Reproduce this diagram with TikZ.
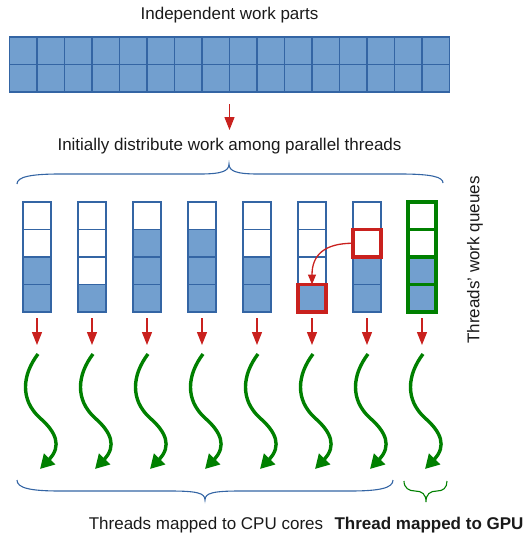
\documentclass[tikz,border=0pt]{standalone}
\usepackage{fontspec}
\setmainfont{Liberation Sans}
\usetikzlibrary{arrows.meta}
\definecolor{qblue}{HTML}{729FCF}
\definecolor{qborder}{HTML}{3465A4}
\definecolor{qred}{HTML}{C9211E}
\definecolor{qgreen}{HTML}{008000}
\definecolor{qtext}{HTML}{1A1A1A}
\begin{document}
\begin{tikzpicture}[x=1pt,y=-1pt,
  cell/.style={minimum width=27.5pt, minimum height=27.5pt, inner sep=0pt, outer sep=0pt, anchor=north west},
  qcell/.style={cell, minimum width=28pt},
  edge/.style={draw=qborder, line width=1.5pt},
  thickedge/.style={line width=3.2pt},
  label/.style={text=qtext, font=\fontsize{17}{20}\selectfont, inner sep=0pt},
  redarrow/.style={draw=qred, line width=1.2pt, -{Triangle[length=13pt,width=10pt]}},
  wavy/.style={draw=qgreen, line width=3.4pt, -{Triangle[length=14pt,width=15pt]}},
  bracestyle/.style={line width=1.1pt}]
\useasboundingbox (0,0) rectangle (527,538);
% top grid
\foreach \c in {0,...,15}{
  \foreach \r in {0,1}{
    \node[cell, fill=qblue] (g-\r-\c) at (9.5+27.5*\c, 37+27.5*\r) {};
  }
}
\foreach \c in {0,...,15}{
  \foreach \r in {0,1}{
    \draw[edge] (g-\r-\c.north west) rectangle (g-\r-\c.south east);
  }
}
\node[label] (t1) at (229.5,15) {Independent work parts};
\coordinate (ta) at (229.5,104);
\coordinate (tb) at (229.5,130);
\draw[redarrow] (ta) -- (tb);
\node[label] (t2) at (229.5,146) {Initially distribute work among parallel threads};
% top brace
\draw[qborder, bracestyle] (17,184) .. controls (17,177) and (30,174) .. (60,174) -- (200,174)
  .. controls (222,174) and (229,171) .. (229,164) .. controls (229,171) and (236,174) .. (258,174)
  -- (400,174) .. controls (432,174) and (443,177) .. (443,183);
% queues
\foreach \i/\e in {0/2,1/3,2/1,3/1,4/2,5/3,6/2,7/2}{
  \foreach \r in {0,...,3}{
    \ifnum\r<\e \def\fc{white}\else\def\fc{qblue}\fi
    \node[qcell, fill=\fc] (q-\i-\r) at (23+55*\i, 202+27.5*\r) {};
  }
  \foreach \r in {0,...,3}{
    \ifnum\i=7
      \draw[edge, thickedge, draw=qgreen] (q-\i-\r.north west) rectangle (q-\i-\r.south east);
    \else
      \draw[edge] (q-\i-\r.north west) rectangle (q-\i-\r.south east);
    \fi
  }
  \coordinate (ra-\i) at (37+55*\i, 318);
  \coordinate (rb-\i) at (37+55*\i, 345);
  \draw[redarrow] (ra-\i) -- (rb-\i);
  \pgfmathsetmacro\dx{55*\i}
  \coordinate (wa-\i) at (\dx+38,354);
  \coordinate (wb-\i) at (\dx+40,469);
  \draw[wavy] (wa-\i) .. controls (\dx+22,375) and (\dx+20,400) .. (\dx+40,418)
     .. controls (\dx+56,432) and (\dx+62,446) .. (wb-\i);
}
% red highlighted cells
\draw[qred, thickedge] (q-5-3.north west) rectangle (q-5-3.south east);
\draw[qred, thickedge] (q-6-1.north west) rectangle (q-6-1.south east);
\draw[draw=qred, line width=1.3pt, -{Triangle[length=10pt,width=8pt]}] (q-6-1.west) .. controls +(-28,0) and +(0,-30) .. (q-5-3.north);
% side label
\node[label, rotate=90] (t3) at (475,260) {Threads' work queues};
% bottom braces
\draw[qborder, bracestyle] (17,480) .. controls (17,488) and (30,491) .. (60,491) -- (170,491)
  .. controls (197,491) and (205,493) .. (205,500) .. controls (205,493) and (213,491) .. (240,491)
  -- (350,491) .. controls (380,491) and (393,488) .. (393,480);
\draw[qgreen, bracestyle] (404,481) .. controls (404,488) and (409,491) .. (415,491)
  .. controls (422,491) and (426,494) .. (426,502) .. controls (426,494) and (430,491) .. (437,491)
  .. controls (443,491) and (447,488) .. (447,481);
\node[label] (t4) at (206,525) {Threads mapped to CPU cores};
\node[label, font=\fontsize{17}{20}\selectfont\bfseries] (t5) at (429,525) {Thread mapped to GPU};
\end{tikzpicture}
\end{document}
